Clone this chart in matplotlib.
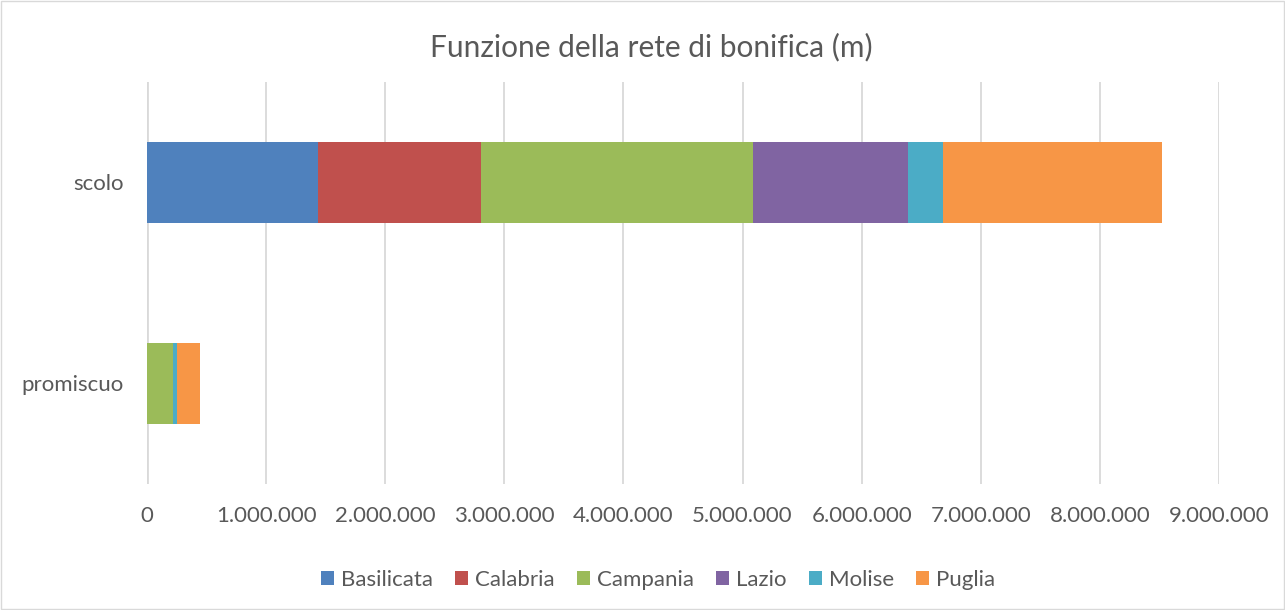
import matplotlib
matplotlib.use('Agg')
import matplotlib.pyplot as plt
from matplotlib.ticker import FuncFormatter

plt.rcParams['font.family'] = ['Lato', 'DejaVu Sans']

# Data (m)
categories = ['promiscuo', 'scolo']
regions = ['Basilicata', 'Calabria', 'Campania', 'Lazio', 'Molise', 'Puglia']
basilicata = [0, 1432000]
calabria = [0, 1370000]
campania = [215000, 2290000]
lazio = [0, 1300000]
molise = [34000, 290000]
puglia = [199000, 1840000]
series = [basilicata, calabria, campania, lazio, molise, puglia]
colors = ['#4f81bd', '#c0504d', '#9bbb59', '#8064a2', '#4bacc6', '#f79646']

fig = plt.figure(figsize=(12.85, 6.1), dpi=100)
ax = fig.add_axes([0.1144, 0.2066, 0.8342, 0.659])

left = [0, 0]
for name, vals, c in zip(regions, series, colors):
    ax.barh(categories, vals, left=left, height=0.4, color=c, label=name, zorder=3)
    left = [l + v for l, v in zip(left, vals)]

ax.set_xlim(0, 9000000)
ax.set_ylim(-0.5, 1.5)
ax.set_xticks(range(0, 9000001, 1000000))
ax.xaxis.set_major_formatter(FuncFormatter(lambda v, p: f'{int(v):,}'.replace(',', '.')))
ax.grid(axis='x', color='#d9d9d9', linewidth=1.3, zorder=0)
for s in ax.spines.values():
    s.set_visible(False)
ax.axvline(0, color='#d9d9d9', linewidth=2, zorder=1)
ax.tick_params(axis='both', length=0, labelsize=16, colors='#595959')
ax.tick_params(axis='x', pad=16)
ax.tick_params(axis='y', pad=17)

fig.text(0.507, 0.923, 'Funzione della rete di bonifica (m)', fontsize=21.5,
         color='#595959', ha='center', va='center')

fig.legend(loc='lower center', bbox_to_anchor=(0.512, 0.0), ncol=6, frameon=False,
           fontsize=16, handlelength=0.6, handleheight=0.6, handletextpad=0.3,
           columnspacing=1.0, labelcolor='#595959')

fig.patches.append(plt.Rectangle((0.001, 0.001), 0.998, 0.998, transform=fig.transFigure,
                                 fill=False, edgecolor='#d9d9d9', linewidth=1))

plt.savefig('out.png', dpi=100, facecolor='white')
